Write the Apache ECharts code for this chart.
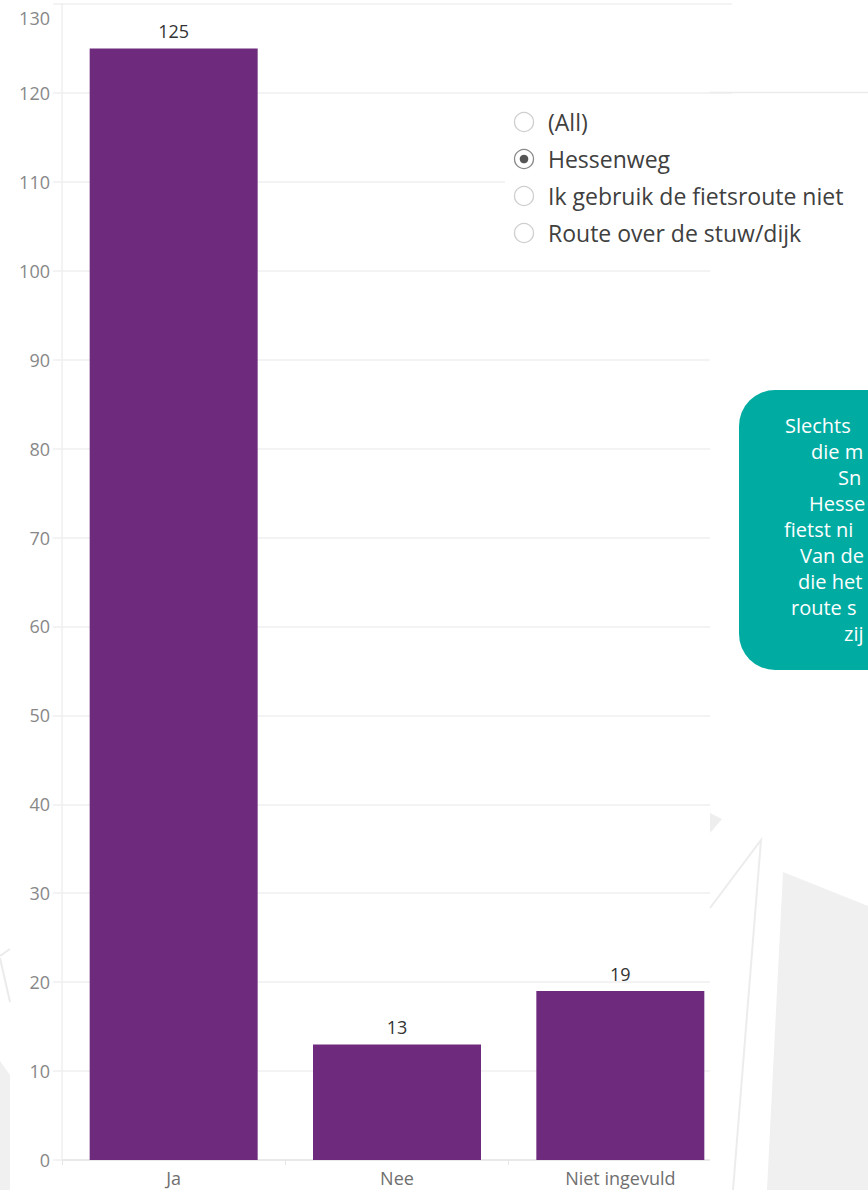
<!DOCTYPE html>
<html>
<head>
<meta charset="utf-8">
<script src="https://cdn.jsdelivr.net/npm/echarts@6/dist/echarts.min.js"></script>
<style>
html,body{margin:0;padding:0;background:#fff;}
#chart{width:868px;height:1190px;}
</style>
</head>
<body>
<div id="chart"></div>
<script>
var categories = ['Ja', 'Nee', 'Niet ingevuld'];
var values = [125, 13, 19];
var yMin = 0, yMax = 130, yStep = 10;
var filterOptions = ['(All)', 'Hessenweg', 'Ik gebruik de fietsroute niet', 'Route over de stuw/dijk'];
var selectedOption = 'Hessenweg';
var calloutLines = ['Slechts', 'die m', 'Sn', 'Hesse', 'fietst ni', 'Van de', 'die het', 'route s', 'zij'];

var FONT = '"Open Sans", "Noto Sans", sans-serif';
var chart = echarts.init(document.getElementById('chart'), null, {renderer: 'svg', width: 868, height: 1190});

var calloutX = [785, 811, 838, 809, 784, 800, 798, 791, 844];

var graphics = [];
// cover beyond plot clip
graphics.push({type:'rect', z:5, shape:{x:710, y:95, width:158, height:1095}, style:{fill:'#ffffff'}});
// line continuing at top-right
graphics.push({type:'line', z:5, shape:{x1:710, y1:92.5, x2:868, y2:92.5}, style:{stroke:'#ececec', lineWidth:1.5}});
// background decorative shapes
graphics.push({type:'polygon', z:6, shape:{points:[[783,872],[868,906],[868,1190],[767,1190]]}, style:{fill:'#f0f0f0'}});
graphics.push({type:'polygon', z:6, shape:{points:[[710,813],[722,819],[710,833]]}, style:{fill:'#eeeeee'}});
graphics.push({type:'polyline', z:6, shape:{points:[[710,908],[761,840],[733,1190]]}, style:{stroke:'#ececec', lineWidth:2, fill:null}});
graphics.push({type:'polygon', z:6, shape:{points:[[0,1061],[10,1075],[10,1190],[0,1190]]}, style:{fill:'#f0f0f0'}});
graphics.push({type:'polyline', z:1, shape:{points:[[10,949],[0,956]]}, style:{stroke:'#ebebeb', lineWidth:2, fill:null}});
graphics.push({type:'polyline', z:1, shape:{points:[[0,958],[10,1002]]}, style:{stroke:'#ebebeb', lineWidth:2, fill:null}});
// filter card background
graphics.push({type:'rect', z:5, shape:{x:505, y:97, width:363, height:165}, style:{fill:'#ffffff'}});
filterOptions.forEach(function(opt, i){
  var cy = 122 + i * 37;
  var sel = opt === selectedOption;
  graphics.push({type:'circle', z:7, shape:{cx:524, cy:cy, r:9.5}, style:{fill:'#fff', stroke: sel ? '#8a8a8a' : '#cfcfcf', lineWidth:1.3}});
  if (sel) graphics.push({type:'circle', z:8, shape:{cx:524, cy:cy, r:4.3}, style:{fill:'#555'}});
  graphics.push({type:'text', z:8, x:548, y:cy, style:{text:opt, font:'23px ' + FONT, fill:'#404040', textVerticalAlign:'middle', verticalAlign:'middle'}});
});
// callout box
graphics.push({type:'rect', z:9, shape:{x:739, y:390, width:220, height:280, r:36}, style:{fill:'#00aca2'}});
calloutLines.forEach(function(t, i){
  graphics.push({type:'text', z:10, x:calloutX[i], y:425 + i * 26, style:{text:t, font:'20px ' + FONT, fill:'#ffffff', verticalAlign:'middle', textVerticalAlign:'middle'}});
});

chart.setOption({
  animation: false,
  backgroundColor: '#ffffff',
  grid: {left: 62, right: 136, top: 4, bottom: 30, containLabel: false},
  xAxis: {
    type: 'category',
    data: categories,
    axisLine: {show: true, lineStyle: {color: '#e6e6e6', width: 1.5}},
    axisTick: {show: true, length: 5, lineStyle: {color: '#e6e6e6'}},
    axisLabel: {color: '#6f6f6f', fontSize: 18, fontFamily: FONT, margin: 9}
  },
  yAxis: {
    type: 'value',
    min: yMin, max: yMax, interval: yStep,
    axisLine: {show: true, lineStyle: {color: '#efefef', width: 1.5}},
    axisTick: {show: true, length: 9, lineStyle: {color: '#efefef', width: 1.5}},
    splitLine: {show: true, lineStyle: {color: '#efefef', width: 1.5}},
    axisLabel: {
      color: '#888888', fontSize: 18, fontFamily: FONT, margin: 12,
      formatter: function(v){ return v === yMax ? '{top|' + v + '}' : String(v); },
      rich: {top: {color: '#888888', fontSize: 18, fontFamily: FONT, padding: [28, 0, 0, 0]}}
    }
  },
  series: [{
    type: 'bar',
    data: values,
    barWidth: 168,
    itemStyle: {color: '#6e2a7d'},
    label: {show: true, position: 'top', distance: 8, color: '#333333', fontSize: 18, fontFamily: FONT}
  }],
  graphic: graphics
});
</script>
</body>
</html>
